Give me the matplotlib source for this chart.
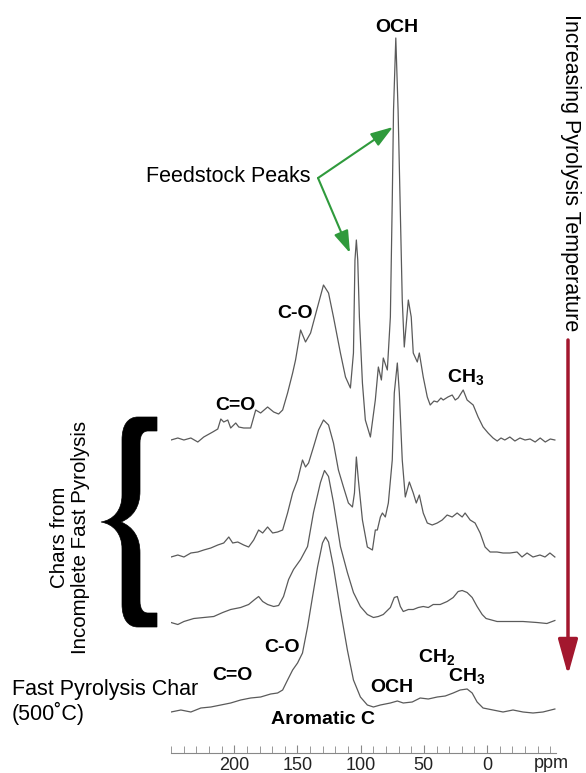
import numpy as np
import matplotlib
matplotlib.use("Agg")
import matplotlib.pyplot as plt
from matplotlib.path import Path
from matplotlib.patches import PathPatch

plt.rcParams['font.family'] = ['Liberation Sans', 'DejaVu Sans']
plt.rcParams['mathtext.fontset'] = 'custom'
plt.rcParams['mathtext.rm'] = 'Liberation Sans'
plt.rcParams['mathtext.bf'] = 'Liberation Sans:bold'

# --- espectros (ppm, intensidad relativa a su linea base) ---
ppm_1 = [250, 244.6, 239.8, 234.3, 228.8, 224.1, 217.0, 213.0, 210.6, 208.3, 205.1, 202.8,
         198.8, 196.4, 192.5, 187.0, 183.0, 179.1, 173.6, 168.8, 164.9, 161.7, 157.8, 153.8,
         151.5, 147.5, 143.6, 139.6, 134.1, 129.4, 125.4, 121.5, 116.0, 112.0, 108.1, 105.7,
         104.5, 103.4, 102.3, 101.0, 98.6, 96.3, 92.3, 88.4, 86.0, 83.6, 82.1, 78.9, 76.5,
         75.0, 74.0, 72.2, 70.4, 69.4, 67.1, 65.5, 62.3, 60.0, 58.4, 55.2, 53.6, 50.5, 47.3,
         45.0, 42.0, 39.4, 36.5, 34.7, 31.0, 27.6, 25.2, 22.9, 18.9, 15.8, 11.0, 7.1, 3.2,
         -0.8, -4.7, -8.0, -11.0, -14.0, -18.0, -22.0, -26.0, -30.0, -34.0, -38.0, -42.0,
         -46.0, -50.0, -53.6]
int_1 = [0, 2, 0, 2, -2, 3, 8, 11, 21, 18, 20, 12,
         17, 13, 12, 12, 30, 27, 33, 28, 26, 30, 47, 67,
         80, 110, 98, 107, 133, 155, 147, 123, 87, 63, 52, 87,
         180, 200, 180, 123, 57, 20, 3, 40, 73, 60, 82, 70, 123,
         240, 330, 402, 330, 273, 140, 93, 140, 123, 87, 78, 87, 63, 43,
         35, 39, 38, 42, 40, 43, 45, 40, 42, 50, 40, 35, 23, 13,
         7, 2, -1, 2, 0, 3, -1, 2, 0, 1, -2, 2,
         -2, 1, 0]

ppm_2 = [250, 244.6, 239.8, 234.3, 228.8, 224.1, 218.5, 213.0, 208.3, 204.3, 201.2, 197.2,
         192.5, 188.6, 184.6, 180.7, 177.5, 173.6, 169.6, 165.7, 161.7, 157.8, 153.8, 149.9,
         146.0, 143.6, 141.2, 137.3, 133.3, 129.4, 125.4, 121.5, 117.6, 113.6, 109.7, 106.5,
         104.9, 103.4, 101.8, 98.6, 94.7, 90.7, 88.4, 86.8, 84.4, 82.8, 80.5, 78.1, 75.0,
         73.4, 71.0, 69.4, 67.1, 64.7, 61.5, 58.4, 56.0, 53.6, 50.5, 47.3, 43.4, 39.4, 35.5,
         31.6, 27.6, 23.7, 19.7, 17.4, 13.4, 9.5, 5.5, 1.6, -2.4, -7.9, -12.6, -18.1, -23.7,
         -27.6, -31.6, -36.3, -41.8, -45.8, -49.7, -53.6]
int_2 = [0, 2, 0, 4, 5, 7, 9, 12, 14, 20, 14, 15,
         12, 10, 17, 27, 24, 30, 24, 25, 27, 44, 64, 77,
         97, 90, 94, 110, 127, 137, 132, 114, 87, 70, 54, 50,
         64, 100, 77, 37, 10, 7, 27, 27, 40, 44, 40, 54, 97,
         164, 194, 164, 97, 60, 75, 64, 54, 62, 44, 34, 32, 34, 37,
         42, 40, 44, 40, 44, 37, 34, 24, 10, 5, 5, 4, 4, 5,
         0, 4, 0, 2, 0, 4, 0]

ppm_3 = [250, 244.6, 239.8, 232.0, 224.1, 216.2, 209.1, 202.8, 194.9, 188.6, 183.8, 180.7,
         177.5, 173.6, 168.8, 164.9, 161.0, 157.0, 153.1, 147.5, 142.0, 137.3, 131.8, 128.6,
         125.4, 121.5, 116.0, 110.5, 105.7, 100.2, 94.7, 89.9, 86.0, 82.1, 76.5,
         73.4, 71.0, 68.6, 66.3, 62.3, 58.4, 54.4, 50.5, 46.5, 42.6, 37.1, 31.6, 26.8, 22.9,
         19.7, 15.8, 11.8, 7.9, 3.9, 0.8, -7.9, -18.1, -28.4, -39.4, -47.3, -53.6]
int_3 = [0, -2, 1, 4, 5, 6, 10, 13, 15, 18, 23, 26,
         21, 18, 16, 17, 26, 43, 53, 63, 76, 110, 140, 152,
         146, 120, 76, 50, 30, 16, 8, 5, 6, 8, 15,
         25, 26, 16, 11, 13, 13, 15, 16, 15, 18, 18, 21, 25, 31,
         32, 30, 25, 16, 8, 4, 1, 1, 1, 0, -1, 2]

ppm_4 = [250, 242.2, 234.3, 226.4, 218.5, 210.6, 202.8, 194.9, 187.0, 179.1, 171.2, 165.7,
         161.7, 157.8, 153.8, 149.9, 146.0, 142.0, 138.1, 134.1, 130.2, 127.8, 125.4, 121.5,
         116.0, 110.5, 105.7, 100.2, 94.7, 89.9, 84.4, 76.5, 71.0, 66.3, 59.2, 52.9,
         46.5, 39.4, 33.1, 26.8, 21.3, 15.8, 11.8, 7.9, 3.2, -4.7, -12.6, -20.5, -28.4,
         -36.3, -44.2, -53.6]
int_4 = [0, 2, 0, 4, 5, 7, 9, 12, 14, 15, 18, 19,
         22, 32, 42, 49, 59, 85, 115, 145, 169, 175, 170, 145,
         102, 62, 32, 15, 7, 5, 7, 9, 11, 9, 10, 14,
         13, 15, 16, 19, 22, 23, 19, 10, 4, 2, 0, 2, 0,
         -1, 0, 3]

espectros = [(ppm_1, int_1), (ppm_2, int_2), (ppm_3, int_3), (ppm_4, int_4)]
# desplazamiento vertical de cada espectro (apilado)
offsets = [313, 196, 130.5, 41]

major_ticks = [200, 150, 100, 50, 0]
tick_labels = ["200", "150", "100", "50", "0"]

W, H = 586, 773
fig = plt.figure(figsize=(W / 100, H / 100), dpi=100)


def fp(x, y):
    # pixel (desde arriba-izquierda) -> fraccion de figura
    return (x / W, 1 - y / H)


ax = fig.add_axes([171 / W, 20 / H, (556 - 171) / W, (753 - 20) / H])
ax.set_xlim(250, -54.5)
ax.set_ylim(0, 733)

for (xs, ys), off in zip(espectros, offsets):
    ax.plot(xs, np.array(ys) + off, color="#5a5a5a", lw=0.9)

for s in ["left", "right", "top"]:
    ax.spines[s].set_visible(False)
ax.spines["bottom"].set_color("#888888")
ax.set_yticks([])
ax.set_xticks(major_ticks)
ax.set_xticklabels(tick_labels, fontsize=13, color="#222222")
ax.set_xticks(np.arange(-50, 251, 10), minor=True)
ax.tick_params(axis="x", which="both", direction="in", color="#888888", pad=3)
ax.tick_params(axis="x", which="major", length=6)
ax.tick_params(axis="x", which="minor", length=5)
fig.text(*fp(551, 763), "ppm", fontsize=13, ha="center", va="center", color="#222222")

# etiquetas de picos
bold = dict(fontsize=14, fontweight="bold", ha="center", va="center")
fig.text(*fp(397, 28), "OCH", **bold)
fig.text(*fp(295, 313), "C-O", **bold)
fig.text(*fp(235, 405), "C=O", **bold)
fig.text(*fp(466, 377), r"$\mathbf{CH_3}$", **bold)
fig.text(*fp(282, 647), "C-O", **bold)
fig.text(*fp(232, 675), "C=O", **bold)
fig.text(*fp(323, 719), "Aromatic C", **bold)
fig.text(*fp(392, 687), "OCH", **bold)
fig.text(*fp(437, 657), r"$\mathbf{CH_2}$", **bold)
fig.text(*fp(467, 676), r"$\mathbf{CH_3}$", **bold)

# texto normal
fig.text(*fp(310, 177), "Feedstock Peaks", fontsize=15.5, ha="right", va="center")
fig.text(*fp(12, 689), "Fast Pyrolysis Char", fontsize=15.5, ha="left", va="center")
fig.text(*fp(12, 713), "(500\u02daC)", fontsize=15.5, ha="left", va="center")
fig.text(*fp(70, 537), "Chars from\nIncomplete Fast Pyrolysis", fontsize=14.8,
         ha="center", va="center", rotation=90, multialignment="center", linespacing=1.1)
fig.text(*fp(571, 173), "Increasing Pyrolysis Temperature", fontsize=15.5,
         ha="center", va="center", rotation=-90)

# llave "{" dibujada como contorno relleno
M, L, C4, CL = Path.MOVETO, Path.LINETO, Path.CURVE4, Path.CLOSEPOLY
llave = [
    ((157, 417), M), ((138, 417), L),
    ((128, 417), C4), ((122, 425), C4), ((122, 440), C4),
    ((122, 495), L),
    ((122, 511), C4), ((113, 520), C4), ((101, 522), C4),
    ((113, 524), C4), ((122, 533), C4), ((122, 549), C4),
    ((122, 604), L),
    ((122, 619), C4), ((128, 627), C4), ((138, 627), C4),
    ((157, 627), L), ((157, 613), L), ((148, 613), L),
    ((143, 613), C4), ((140, 609), C4), ((140, 601), C4),
    ((140, 553), L),
    ((140, 537), C4), ((133, 527), C4), ((121, 522), C4),
    ((133, 517), C4), ((140, 507), C4), ((140, 491), C4),
    ((140, 443), L),
    ((140, 435), C4), ((143, 431), C4), ((148, 431), C4),
    ((157, 431), L), ((157, 417), CL),
]
verts = [fp(*p) for p, _ in llave]
codes = [c for _, c in llave]
fig.patches.append(PathPatch(Path(verts, codes), transform=fig.transFigure,
                             facecolor="black", edgecolor="black", lw=0.5))

# flechas verdes
verde = "#2f9a3c"
for fin in [(393, 127), (350, 253)]:
    ax.annotate("", xy=fp(*fin), xytext=fp(318, 178), xycoords="figure fraction",
                textcoords="figure fraction", annotation_clip=False,
                arrowprops=dict(arrowstyle="-|>,head_length=0.9,head_width=0.3",
                                color=verde, lw=1.5, mutation_scale=15,
                                shrinkA=0, shrinkB=0))

# flecha roja
ax.annotate("", xy=fp(568, 675), xytext=fp(568, 340), xycoords="figure fraction",
            textcoords="figure fraction", annotation_clip=False,
            arrowprops=dict(arrowstyle="-|>,head_length=1.08,head_width=0.3",
                            color="#a3172e", lw=2.5, mutation_scale=20,
                            shrinkA=0, shrinkB=0))

fig.savefig("out.png", dpi=100)
